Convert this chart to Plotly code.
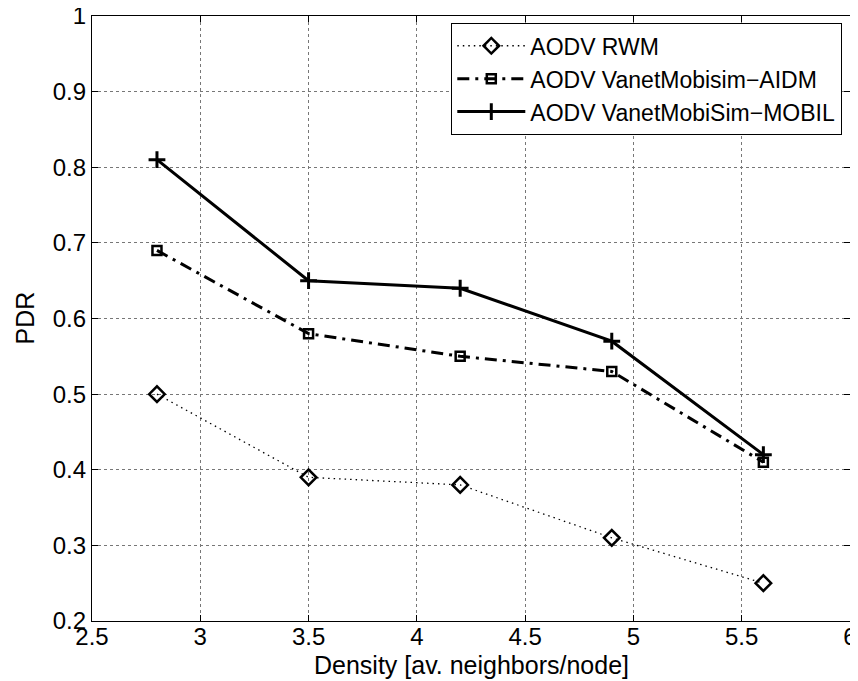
import plotly.graph_objects as go

density = [2.8, 3.5, 4.2, 4.9, 5.6]
pdr_rwm = [0.50, 0.39, 0.38, 0.31, 0.25]
pdr_aidm = [0.69, 0.58, 0.55, 0.53, 0.41]
pdr_mobil = [0.81, 0.65, 0.64, 0.57, 0.42]
x_ticks = [2.5, 3, 3.5, 4, 4.5, 5, 5.5, 6]
x_tick_text = ["2.5", "3", "3.5", "4", "4.5", "5", "5.5", "6"]
y_ticks = [0.2, 0.3, 0.4, 0.5, 0.6, 0.7, 0.8, 0.9, 1.0]
y_tick_text = ["0.2", "0.3", "0.4", "0.5", "0.6", "0.7", "0.8", "0.9", "1"]
x_title = "Density [av. neighbors/node]"
y_title = "PDR"

FONT = "Liberation Sans, Arial, Helvetica, sans-serif"

# The page body has an 8px margin, so the figure is sized 850x673 to fill the 858x681 window.
W, H = 850, 673
L, R, T, B = 84, 8, 8, 60
PW, PH = W - L - R, H - T - B

fig = go.Figure()
fig.add_trace(go.Scatter(
    x=density, y=pdr_rwm, name="AODV RWM", mode="lines+markers",
    line=dict(color="black", width=1.3, dash="1.5px,4px"),
    marker=dict(symbol="diamond-open", size=12, color="black", line=dict(width=2.5, color="black")),
))
fig.add_trace(go.Scatter(
    x=density, y=pdr_aidm, name="AODV VanetMobisim\u2212AIDM", mode="lines+markers",
    line=dict(color="black", width=3, dash="12px,6px,3px,6px"),
    marker=dict(symbol="square-open", size=9, color="black", line=dict(width=2.5, color="black")),
))
fig.add_trace(go.Scatter(
    x=density, y=pdr_mobil, name="AODV VanetMobiSim\u2212MOBIL", mode="lines+markers",
    line=dict(color="black", width=3),
    marker=dict(symbol="cross-thin", size=12, color="black", line=dict(width=3, color="black")),
))

axis_common = dict(
    showline=True, linecolor="black", linewidth=1.3, mirror="ticks",
    ticks="inside", ticklen=6, tickcolor="black", tickwidth=1,
    showgrid=True, gridcolor="#777777", griddash="dot", gridwidth=1,
    zeroline=False, tickfont=dict(family=FONT, size=24, color="black"),
    ticklabeloverflow="allow",
)

fig.update_layout(
    width=W, height=H,
    margin=dict(l=L, r=R, t=T, b=B, autoexpand=False),
    paper_bgcolor="white", plot_bgcolor="white",
    font=dict(family=FONT, color="black"),
    xaxis=dict(range=[2.5, 6], tickvals=x_ticks, ticktext=x_tick_text,
               automargin=False, ticklabelstandoff=-6, **axis_common),
    yaxis=dict(range=[0.2, 1.0], tickvals=y_ticks, ticktext=y_tick_text,
               automargin=False, **axis_common),
    legend=dict(x=(834 - L) / PW, y=(T + PH - 15) / PH, xanchor="right", yanchor="top",
                bgcolor="white", bordercolor="black", borderwidth=1.3,
                font=dict(family=FONT, size=23, color="black"),
                tracegroupgap=0, itemwidth=68),
    showlegend=True,
    annotations=[
        dict(text=x_title, xref="paper", yref="paper", x=0.5, y=(T + PH - 657) / PH,
             xanchor="center", yanchor="middle", showarrow=False,
             font=dict(family=FONT, size=25, color="black")),
        dict(text=y_title, xref="paper", yref="paper", x=(16 - L) / PW, y=0.5,
             xanchor="center", yanchor="middle", textangle=-90, showarrow=False,
             font=dict(family=FONT, size=25, color="black")),
    ],
)

fig.write_html("out.html")
